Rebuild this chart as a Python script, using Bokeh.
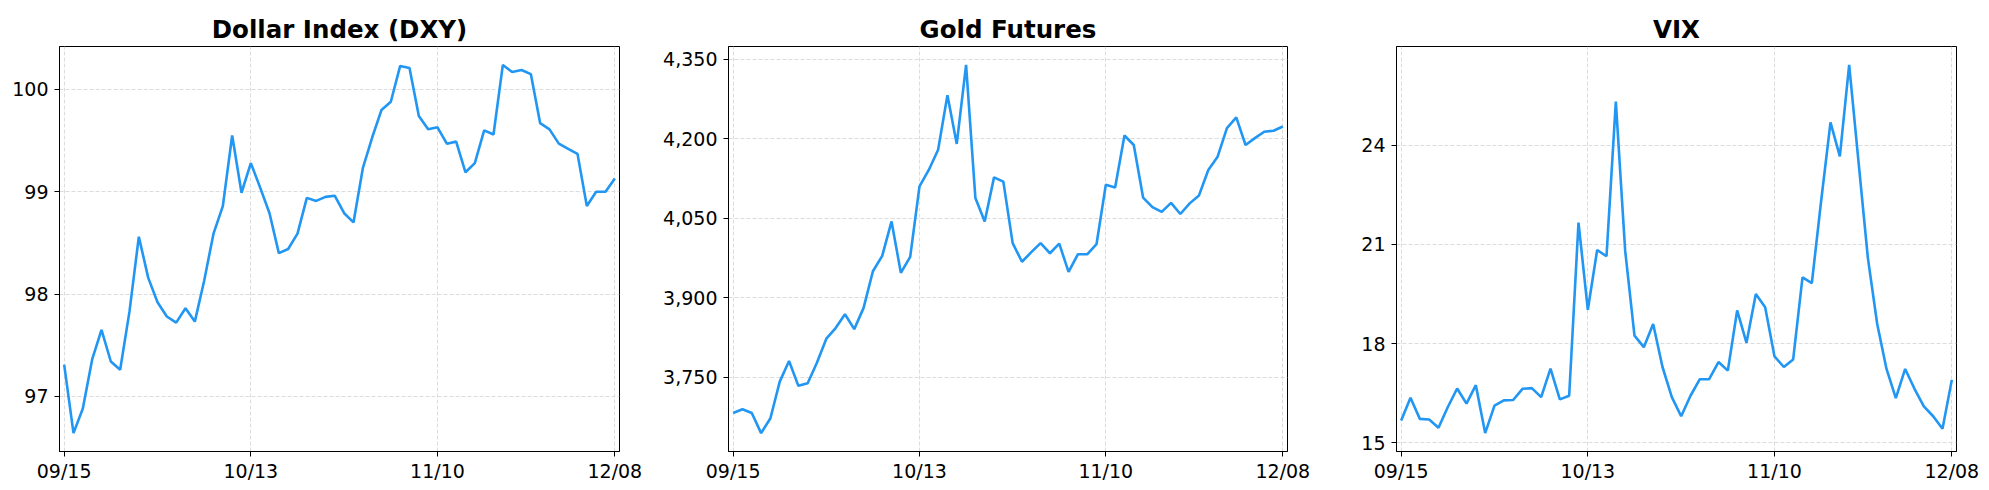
from bokeh.plotting import figure
from bokeh.layouts import row
from bokeh.models import Range1d, FixedTicker, NumeralTickFormatter
from bokeh.embed import file_html
from bokeh.resources import INLINE

# ---- data ----
tick_index = [0, 20, 40, 59]
tick_labels = ["09/15", "10/13", "11/10", "12/08"]

dxy = [97.31, 96.64, 96.88, 97.36, 97.65, 97.34, 97.26, 97.83, 98.56, 98.16,
       97.92, 97.78, 97.72, 97.86, 97.73, 98.13, 98.59, 98.86, 99.55, 98.99,
       99.28, 99.04, 98.79, 98.40, 98.44, 98.59, 98.94, 98.91, 98.95, 98.96,
       98.79, 98.70, 99.23, 99.53, 99.80, 99.88, 100.23, 100.21, 99.74, 99.61,
       99.63, 99.47, 99.49, 99.19, 99.28, 99.60, 99.56, 100.24, 100.17, 100.19,
       100.15, 99.67, 99.61, 99.47, 99.42, 99.37, 98.86, 99.00, 99.00, 99.13]

gold = [3683, 3690, 3683, 3645, 3673, 3742, 3781, 3734, 3739, 3778,
        3823, 3843, 3869, 3841, 3881, 3950, 3979, 4044, 3947, 3977,
        4110, 4141, 4179, 4282, 4190, 4339, 4088, 4044, 4127, 4119,
        4003, 3968, 3986, 4003, 3984, 4002, 3949, 3982, 3982, 4001,
        4113, 4108, 4206, 4188, 4089, 4071, 4062, 4079, 4058, 4078,
        4093, 4141, 4166, 4220, 4240, 4188, 4201, 4213, 4215, 4223]

vix = [15.67, 16.36, 15.72, 15.70, 15.45, 16.08, 16.64, 16.18, 16.74, 15.29,
       16.12, 16.28, 16.29, 16.63, 16.65, 16.38, 17.24, 16.31, 16.42, 21.66,
       19.02, 20.83, 20.64, 25.32, 20.81, 18.24, 17.89, 18.59, 17.29, 16.38,
       15.80, 16.42, 16.92, 16.92, 17.44, 17.18, 19.00, 18.02, 19.50, 19.10,
       17.61, 17.29, 17.52, 20.00, 19.83, 22.32, 24.69, 23.66, 26.43, 23.50,
       20.60, 18.60, 17.23, 16.35, 17.23, 16.63, 16.10, 15.80, 15.42, 16.90]

dxy_ticks = [97, 98, 99, 100]
gold_ticks = [3750, 3900, 4050, 4200, 4350]
vix_ticks = [15, 18, 21, 24]

titles = ["Dollar Index (DXY)", "Gold Futures", "VIX"]
LINE_COLOR = "#2196F3"
FONT = "DejaVu Sans"

BT, BB, FH = 46, 36, 405


def make_panel(title, values, yticks, comma, bl, br, fw):
    x = list(range(len(values)))
    lo, hi = min(values), max(values)
    pad = (hi - lo) * 0.05
    p = figure(width=bl + fw + br, height=BT + FH + BB,
               min_border_left=bl, min_border_right=br,
               min_border_top=BT, min_border_bottom=BB,
               x_range=Range1d(-0.5, len(values) - 0.5),
               y_range=Range1d(lo - pad, hi + pad),
               output_backend="svg", toolbar_location=None,
               title=title)
    p.title.text_font = FONT
    p.title.text_font_style = "bold"
    p.title.text_font_size = "24.5px"
    p.title.text_color = "black"
    p.title.align = "center"
    p.title.vertical_align = "middle"
    p.title.standoff = 4
    p.line(x, values, line_color=LINE_COLOR, line_width=2.6)

    p.xaxis.ticker = FixedTicker(ticks=tick_index)
    p.xaxis.major_label_overrides = {i: l for i, l in zip(tick_index, tick_labels)}
    p.yaxis.ticker = FixedTicker(ticks=yticks)
    if comma:
        p.yaxis.formatter = NumeralTickFormatter(format="0,0")
    for ax in (p.xaxis[0], p.yaxis[0]):
        ax.major_label_text_font = FONT
        ax.major_label_text_font_size = "19px"
        ax.major_label_text_color = "black"
        ax.major_tick_out = 5
        ax.major_tick_in = 0
        ax.minor_tick_out = 0
        ax.minor_tick_in = 0
        ax.axis_line_color = "black"
        ax.major_tick_line_color = "black"
    p.xaxis.major_label_standoff = 3
    p.yaxis.major_label_standoff = 6

    p.grid.grid_line_color = "#dcdcdc"
    p.grid.grid_line_dash = "4 2"
    p.grid.grid_line_width = 1
    p.outline_line_color = "black"
    p.outline_line_width = 1
    p.outline_line_alpha = 1
    p.background_fill_color = "white"
    p.border_fill_color = "white"
    return p


p1 = make_panel(titles[0], dxy, dxy_ticks, False, 59, 36, 560)
p2 = make_panel(titles[1], gold, gold_ticks, True, 73, 55, 559)
p3 = make_panel(titles[2], vix, vix_ticks, False, 54, 30, 560)

layout = row(p1, p2, p3, spacing=0)
open("out.html", "w").write(file_html(layout, INLINE))
